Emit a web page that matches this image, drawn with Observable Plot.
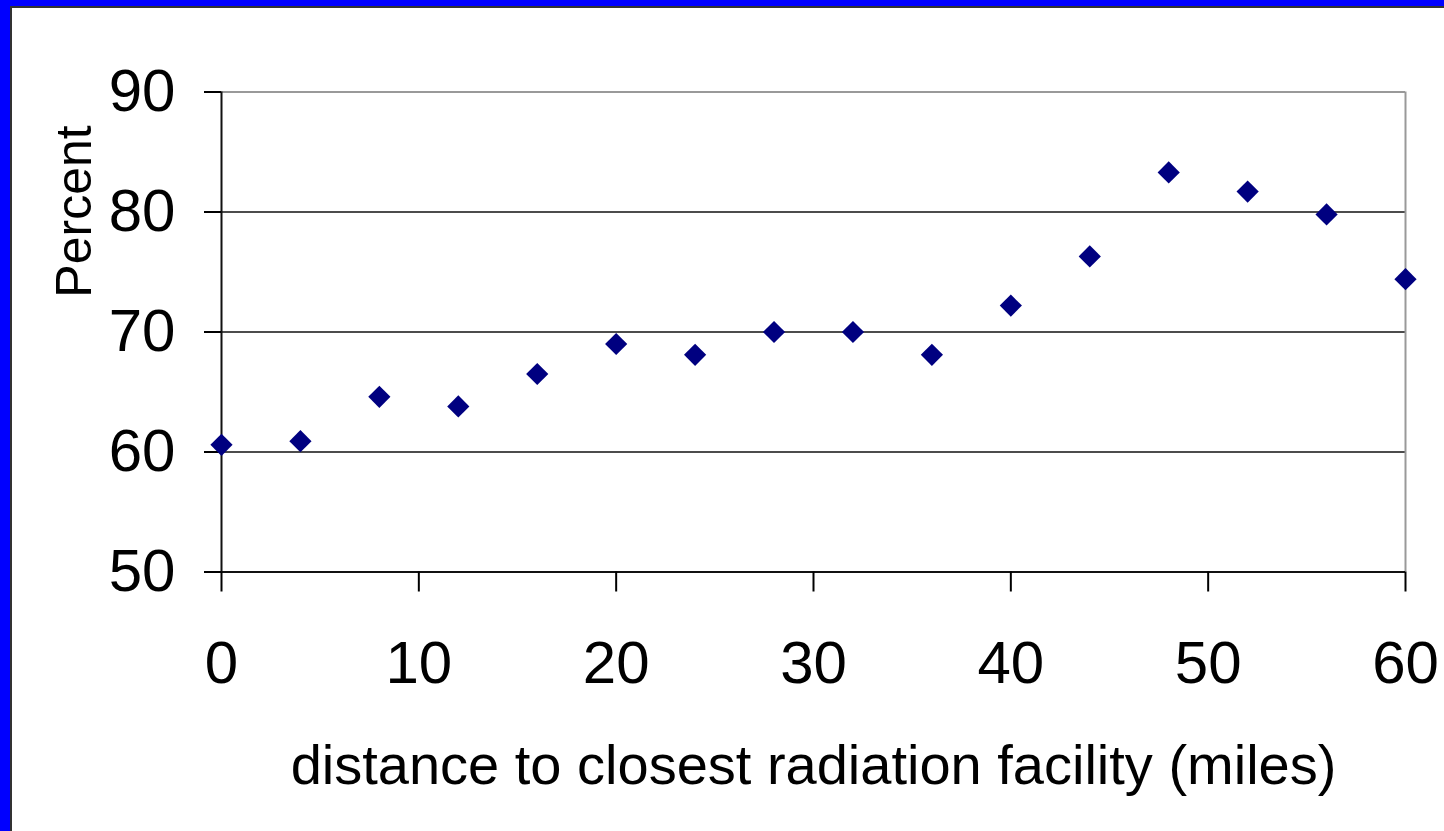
<!DOCTYPE html>
<html><head><meta charset="utf-8">
<script src="https://cdn.jsdelivr.net/npm/d3@7"></script>
<script src="https://cdn.jsdelivr.net/npm/@observablehq/plot@0.6"></script>
<style>
html,body{margin:0;padding:0;background:#fff;overflow:hidden;width:1444px;height:831px;}
#frame{position:absolute;left:0;top:0;width:1444px;height:831px;box-sizing:border-box;border-left:10px solid #0000ff;border-top:6px solid #0000ff;}
#inner{position:absolute;left:0;top:0;right:0;bottom:0;border-left:2px solid #333;border-top:2px solid #333;}
#chart{position:absolute;left:0;top:0;}
</style></head><body>
<div id="frame"><div id="inner"></div></div>
<div id="chart"></div>
<script>
const distance = [0, 4, 8, 12, 16, 20, 24, 28, 32, 36, 40, 44, 48, 52, 56, 60];
const percent = [60.6, 60.9, 64.6, 63.8, 66.5, 69.0, 68.1, 70.0, 70.0, 68.1, 72.2, 76.3, 83.3, 81.7, 79.8, 74.4];
const xTicks = [0, 10, 20, 30, 40, 50, 60];
const yTicks = [50, 60, 70, 80, 90];
const gridValues = [60, 70, 80];
const xTitle = "distance to closest radiation facility (miles)";
const yTitle = "Percent";

const data = distance.map((d, i) => ({distance: d, percent: percent[i]}));

const chart = Plot.plot({
  width: 1444,
  height: 831,
  marginLeft: 221,
  marginRight: 39,
  marginTop: 91.5,
  marginBottom: 259.5,
  style: {background: "transparent", fontFamily: "'Liberation Sans', Arial, sans-serif", color: "#000", overflow: "visible"},
  x: {domain: [0, 60]},
  y: {domain: [50, 90]},
  marks: [
    Plot.ruleY(gridValues, {stroke: "#111", strokeWidth: 1.6}),
    Plot.ruleY([90], {stroke: "#999", strokeWidth: 2}),
    Plot.ruleX([60], {y1: 50, y2: 90, stroke: "#999", strokeWidth: 2}),
    Plot.ruleX([0], {y1: 50, y2: 90, stroke: "#111", strokeWidth: 2}),
    Plot.ruleY([50], {x1: 0, x2: 60, stroke: "#111", strokeWidth: 2}),
    Plot.axisY({ticks: yTicks, tickSize: 17, tickPadding: 29, fontSize: 60, strokeWidth: 2, label: null, tickFormat: d => String(d)}),
    Plot.axisX({ticks: xTicks, tickSize: 20, tickPadding: 48, fontSize: 60, strokeWidth: 2, label: null, tickFormat: d => String(d)}),
    Plot.text([yTitle], {frameAnchor: "top-left", textAnchor: "middle", lineAnchor: "middle", dx: -147, dy: 119.5, rotate: -90, fontSize: 50, fill: "#000"}),
    Plot.text([xTitle], {frameAnchor: "bottom", textAnchor: "middle", lineAnchor: "middle", dy: 194.5, fontSize: 56, fill: "#000"}),
    Plot.dot(data, {x: "distance", y: "percent", symbol: "diamond2", r: 10, fill: "#000080", stroke: "none"})
  ]
});
document.getElementById("chart").append(chart);
</script>
</body></html>
